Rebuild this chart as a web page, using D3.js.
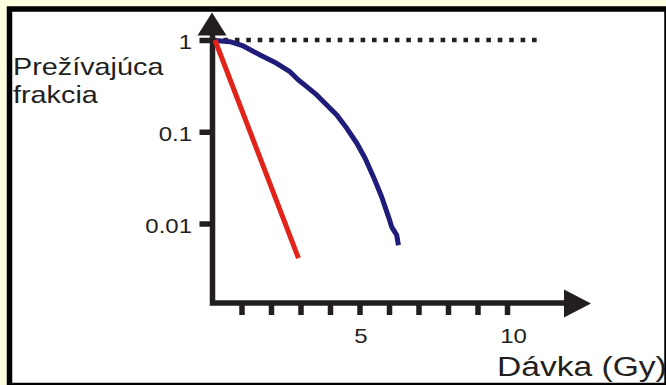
<!DOCTYPE html>
<html>
<head>
<meta charset="utf-8">
<script src="https://cdn.jsdelivr.net/npm/d3@7"></script>
<style>
  html, body { margin: 0; padding: 0; background: #ffffe0; }
  svg { display: block; }
  text { font-family: "Liberation Sans", Arial, sans-serif; fill: #231f20; }
</style>
</head>
<body>
<div class="chart"></div>
<script>
// tick values and labels
var yTicks = [1, 0.1, 0.01];
var yTickLabels = ['1', '0.1', '0.01'];
var xTicks = [1, 2, 3, 4, 5, 6, 7, 8, 9, 10];
var xTickLabels = {5: '5', 10: '10'};

// red curve (straight line on log axis)
var redDose = [0.1, 2.93];
var redSF = [1, 0.0042];

// blue curve (shouldered curve)
var blueDose = [0.1, 0.61, 1.06, 1.63, 2.19, 2.64, 2.93, 3.21, 3.55, 3.89, 4.23, 4.57, 4.91, 5.19, 5.47, 5.75, 5.98, 6.09, 6.26, 6.32];
var blueSF = [0.99, 0.958, 0.861, 0.686, 0.557, 0.451, 0.366, 0.310, 0.252, 0.196, 0.152, 0.109, 0.0749, 0.0514, 0.0324, 0.0196, 0.0119, 0.0092, 0.0075, 0.0058];

// dotted reference at fraction 1
var refDose = [0, 11.1];
var refSF = [1, 1];

var w = 666, h = 385;
var ink = '#231f20';
var sx = 1.2; // text is drawn a little wide

var svg = d3.select('.chart')
    .append('svg')
    .attr('width', w)
    .attr('height', h);

svg.append('rect')
    .attr('x', 9.5).attr('y', 9)
    .attr('width', 657.5).attr('height', 376.5)
    .style('fill', 'white');

var x = d3.scaleLinear().domain([0, 10]).range([212, 507]);
var y = d3.scaleLog().domain([1, 0.01]).range([40, 223.5]);

var line = d3.line()
    .x(function(d){ return x(d[0]); })
    .y(function(d){ return y(d[1]); });

// dotted line
svg.append('path')
    .attr('d', line(d3.zip(refDose, refSF)))
    .style('fill', 'none')
    .style('stroke', ink)
    .style('stroke-width', 4.5)
    .style('stroke-dasharray', '4.6,6.83');

// y axis ticks and labels
var yAxis = svg.append('g')
    .attr('transform', 'translate(212.5,0)')
    .call(d3.axisLeft(y)
        .tickValues(yTicks)
        .tickSize(13)
        .tickSizeOuter(0)
        .tickFormat(function(d, i){ return yTickLabels[i]; }));
yAxis.select('.domain').remove();
yAxis.selectAll('line').style('stroke', ink).style('stroke-width', 5.5);
yAxis.selectAll('text')
    .attr('x', 0).attr('dy', null)
    .attr('transform', 'translate(-20.5,8.5) scale(' + sx + ',1)')
    .style('font-size', '20px')
    .style('fill', ink)
    .style('font-family', '"Liberation Sans", Arial, sans-serif');

// x axis ticks and labels
var xAxis = svg.append('g')
    .attr('transform', 'translate(0,303)')
    .call(d3.axisBottom(x)
        .tickValues(xTicks)
        .tickSize(12)
        .tickSizeOuter(0)
        .tickFormat(function(d){ return xTickLabels[d] || ''; }));
xAxis.select('.domain').remove();
xAxis.selectAll('line').style('stroke', ink).style('stroke-width', 5.5);
xAxis.selectAll('text')
    .attr('y', 0).attr('dy', null)
    .attr('transform', function(d){
        var off = String(xTickLabels[d] || '').length > 1 ? 6 : 1;
        return 'translate(' + off + ',39.5) scale(' + sx + ',1)';
    })
    .style('font-size', '20px')
    .style('fill', ink)
    .style('font-family', '"Liberation Sans", Arial, sans-serif');

// axis lines with arrowheads
svg.append('path')
    .attr('d', 'M212.5,34V303H565')
    .style('fill', 'none')
    .style('stroke', ink)
    .style('stroke-width', 5.5);
svg.append('path')
    .attr('d', 'M212,12.5L226.5,35.5H197.5Z')
    .style('fill', ink);
svg.append('path')
    .attr('d', 'M591,303.5L564,289.5V317.5Z')
    .style('fill', ink);

// curves
svg.append('path')
    .attr('d', line(d3.zip(blueDose, blueSF)))
    .style('fill', 'none')
    .style('stroke', '#1f1c7a')
    .style('stroke-width', 5)
    .style('stroke-linejoin', 'round');
svg.append('path')
    .attr('d', line(d3.zip(redDose, redSF)))
    .style('fill', 'none')
    .style('stroke', '#e2231a')
    .style('stroke-width', 5);

// titles
svg.append('text')
    .attr('transform', 'translate(13,75) scale(' + sx + ',1)')
    .style('font-size', '24px')
    .text('Prežívajúca');
svg.append('text')
    .attr('transform', 'translate(13,103) scale(' + sx + ',1)')
    .style('font-size', '24px')
    .text('frakcia');
svg.append('text')
    .attr('transform', 'translate(497,376) scale(' + sx + ',1)')
    .style('font-size', '28px')
    .text('Dávka (Gy)');

// frame
svg.append('rect')
    .attr('x', 9.5).attr('y', 9)
    .attr('width', 657.5).attr('height', 376.5)
    .style('fill', 'none')
    .style('stroke', 'black')
    .style('stroke-width', 5.5);
</script>
</body>
</html>
